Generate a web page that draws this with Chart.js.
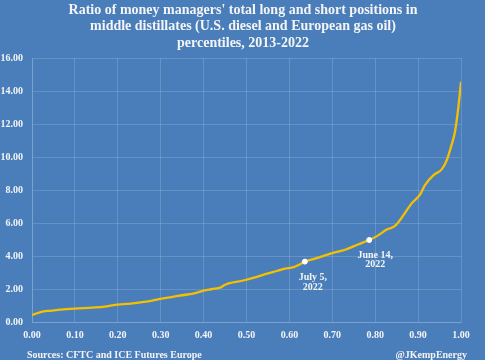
<!DOCTYPE html>
<html>
<head>
<meta charset="utf-8">
<script src="https://cdn.jsdelivr.net/npm/chart.js@4"></script>
<style>
html,body{margin:0;padding:0;background:#4a7ebb;}
#wrap{width:485px;height:360px;position:relative;}
</style>
</head>
<body>
<div id="wrap"><canvas id="c" width="485" height="360"></canvas></div>
<script>
const titleLines = ["Ratio of money managers' total long and short positions in",
  "middle distillates (U.S. diesel and European gas oil)",
  "percentiles, 2013-2022"];
const sourceText = "Sources: CFTC and ICE Futures Europe";
const creditText = "@JKempEnergy";
const percentiles = [0.00,0.02,0.04,0.06,0.10,0.14,0.17,0.19,0.23,0.26,0.28,0.30,0.34,0.38,0.40,0.42,0.44,0.45,0.49,0.52,0.55,0.57,0.59,0.61,0.625,0.636,0.66,0.70,0.73,0.76,0.786,0.805,0.827,0.846,0.866,0.885,0.904,0.916,0.936,0.955,0.967,0.978,0.986,0.994,1.00];
const ratios = [0.42,0.60,0.68,0.73,0.81,0.87,0.93,1.02,1.12,1.22,1.29,1.40,1.58,1.75,1.90,2.00,2.10,2.26,2.50,2.71,2.95,3.09,3.24,3.32,3.50,3.66,3.84,4.18,4.38,4.70,4.97,5.22,5.60,5.82,6.48,7.19,7.70,8.30,8.90,9.25,9.82,10.73,11.53,13.05,14.56];
const markerLabels = [["July 5,","2022"],["June 14,","2022"]];
const markerX = [0.636, 0.786];
const markerY = [3.66, 4.97];
const yTicks = [0,2,4,6,8,10,12,14,16];
const xTicks = [0,0.1,0.2,0.3,0.4,0.5,0.6,0.7,0.8,0.9,1.0];

const FONT = "'Liberation Serif', 'DejaVu Serif', serif";
const bgPlugin = {
  id:'bg',
  beforeDraw(chart){
    const ctx = chart.ctx;
    ctx.save();
    ctx.fillStyle = '#4a7ebb';
    ctx.fillRect(0,0,chart.width,chart.height);
    ctx.restore();
  },
  afterDraw(chart){
    const ctx = chart.ctx;
    ctx.save();
    ctx.fillStyle = '#f4f4f4';
    ctx.textAlign = 'center';
    ctx.textBaseline = 'middle';
    ctx.font = "bold 14px " + FONT;
    titleLines.forEach((t,i)=>ctx.fillText(t, 243, 10 + i*16.5));
    ctx.font = "bold 10px " + FONT;
    ctx.textAlign = 'left';
    ctx.fillText(sourceText, 27, 355);
    ctx.textAlign = 'right';
    ctx.fillText(creditText, 467, 355);
    // marker labels
    const xs = chart.scales.x, ys = chart.scales.y;
    ctx.textAlign = 'center';
    ctx.font = "bold 10px " + FONT;
    markerLabels.forEach((lines,i)=>{
      const px = xs.getPixelForValue(markerX[i]);
      const py = ys.getPixelForValue(markerY[i]);
      const dx = i===0 ? 8 : 6;
      const dy = i===0 ? 16 : 15;
      lines.forEach((l,j)=>ctx.fillText(l, px+dx, py+dy+j*9.5));
    });
    ctx.restore();
  }
};

new Chart(document.getElementById('c'), {
  type:'line',
  data:{
    datasets:[
      {
        data: percentiles.map((x,i)=>({x:x,y:ratios[i]})),
        borderColor:'#f5c000',
        borderWidth:2.3,
        pointRadius:0,
        cubicInterpolationMode:'monotone',
        order:2
      },
      {
        data: markerX.map((x,i)=>({x:x,y:markerY[i]})),
        showLine:false,
        pointRadius:2.5,
        pointBackgroundColor:'#ffffff',
        pointBorderColor:'#ffffff',
        order:1
      }
    ]
  },
  options:{
    responsive:false,
    animation:false,
    devicePixelRatio:1,
    layout:{padding:{top:58,left:0,right:24,bottom:16}},
    plugins:{legend:{display:false},tooltip:{enabled:false},title:{display:false}},
    scales:{
      x:{
        type:'linear', min:0, max:1,
        afterBuildTicks(s){ s.ticks = xTicks.map(v=>({value:v})); },
        afterFit(s){ s.height = 22; },
        grid:{color:'rgba(255,255,255,0.15)', drawTicks:false},
        border:{display:true,color:'rgba(255,255,255,0.15)'},
        ticks:{padding:7, color:'#f4f4f4', font:{family:FONT, size:10, weight:'bold'}, callback:v=>v.toFixed(2), maxRotation:0}
      },
      y:{
        min:0, max:16,
        afterBuildTicks(s){ s.ticks = yTicks.map(v=>({value:v})); },
        afterFit(s){ s.width = 32; },
        grid:{color:'rgba(255,255,255,0.15)', drawTicks:false},
        border:{display:true,color:'rgba(255,255,255,0.15)'},
        ticks:{padding:9, color:'#f4f4f4', font:{family:FONT, size:10, weight:'bold'}, callback:v=>v.toFixed(2)}
      }
    }
  },
  plugins:[bgPlugin]
});
</script>
</body>
</html>
